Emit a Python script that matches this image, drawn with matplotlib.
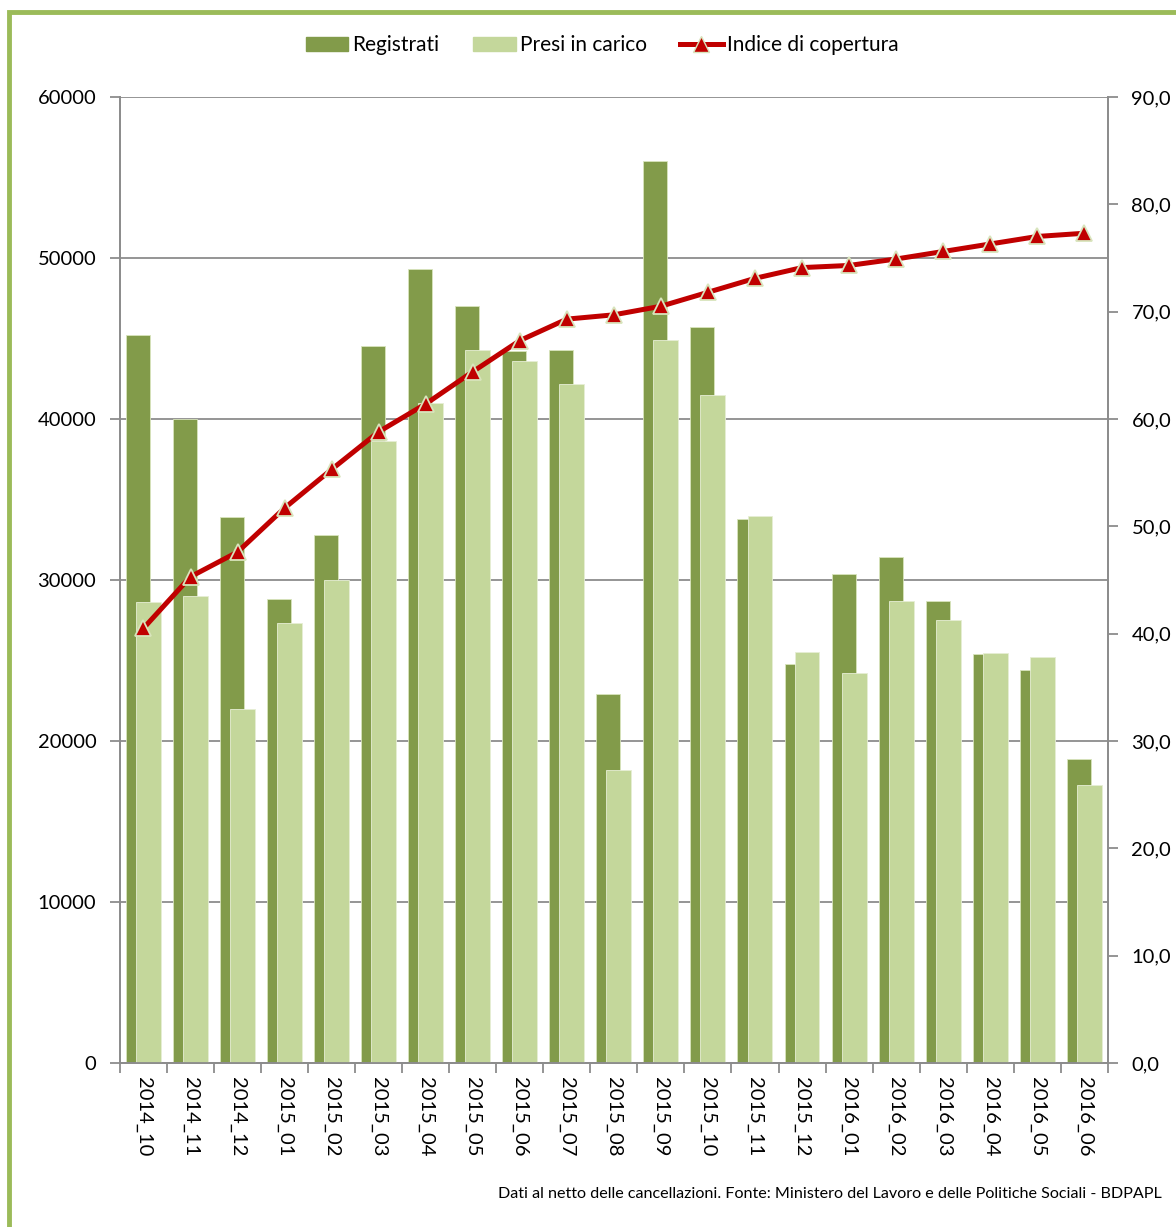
import matplotlib
matplotlib.use('Agg')
import matplotlib.pyplot as plt
import numpy as np
from matplotlib.patches import Rectangle
from matplotlib.lines import Line2D
from matplotlib.ticker import FuncFormatter

plt.rcParams['font.family'] = ['Lato', 'DejaVu Sans']

months = ['2014_10', '2014_11', '2014_12', '2015_01', '2015_02', '2015_03', '2015_04',
          '2015_05', '2015_06', '2015_07', '2015_08', '2015_09', '2015_10', '2015_11',
          '2015_12', '2016_01', '2016_02', '2016_03', '2016_04', '2016_05', '2016_06']
registrati = [45200, 40000, 33900, 28800, 32800, 44500, 49300, 47000, 44200, 44300, 22900,
              56000, 45700, 33800, 24800, 30400, 31400, 28700, 25400, 24400, 18900]
presi = [28600, 29000, 22000, 27300, 30000, 38600, 41000, 44300, 43600, 42200, 18200,
         44900, 41500, 34000, 25500, 24200, 28700, 27500, 25450, 25200, 17250]
indice = [40.5, 45.3, 47.6, 51.7, 55.3, 58.8, 61.4, 64.4, 67.3, 69.3, 69.7,
          70.5, 71.8, 73.1, 74.1, 74.3, 74.9, 75.6, 76.3, 77.0, 77.3]

dark = '#829B4A'
light = '#C4D79B'
red = '#C00000'
grey = '#8C8C8C'

fig = plt.figure(figsize=(11.76, 12.27), dpi=100)
ax = fig.add_axes([0.102, 0.1337, 0.840, 0.7873])

x = np.arange(len(months))
ax.bar(x - 0.117, registrati, 0.51, color=dark, edgecolor='#D8E4BC', linewidth=0.6, zorder=2)
ax.bar(x + 0.106, presi, 0.53, color=light, edgecolor='#E6EED5', linewidth=0.6, zorder=3)

ax.set_xlim(-0.5, len(months) - 0.5)
ax.set_ylim(0, 60000)
ax.set_yticks(np.arange(0, 60001, 10000))
ax.set_axisbelow(True)
ax.yaxis.grid(True, color=grey, linewidth=1.3)
ax.set_xticks(x)
ax.set_xticklabels(months, rotation=270, fontsize=14.5)
ax.set_xticks(np.arange(-0.5, len(months)), minor=True)
ax.tick_params(axis='x', which='major', length=0, pad=10)
ax.tick_params(axis='x', which='minor', length=7, color=grey, width=1.3)
ax.tick_params(axis='y', length=7, color=grey, width=1.3, labelsize=14.5, pad=10)
for s in ['left', 'bottom', 'right']:
    ax.spines[s].set_color(grey)
    ax.spines[s].set_linewidth(1.3)
ax.spines['top'].set_visible(False)

ax2 = ax.twinx()
ax2.plot(x, indice, color=red, linewidth=3.6, marker='^', markersize=11,
         markerfacecolor=red, markeredgecolor='#D8E4BC', markeredgewidth=1.3, zorder=5)
ax2.set_ylim(0, 90)
ax2.set_yticks(np.arange(0, 91, 10))
ax2.yaxis.set_major_formatter(FuncFormatter(lambda v, p: f'{v:.1f}'.replace('.', ',')))
ax2.tick_params(axis='y', length=7, color=grey, width=1.3, labelsize=14.5, pad=10)
for s in ['left', 'bottom', 'right']:
    ax2.spines[s].set_color(grey)
    ax2.spines[s].set_linewidth(1.3)
ax2.spines['top'].set_visible(False)

handles = [Rectangle((0, 0), 1, 1, color=dark),
           Rectangle((0, 0), 1, 1, color=light),
           Line2D([], [], color=red, linewidth=3.6, marker='^', markersize=11,
                  markerfacecolor=red, markeredgecolor='#D8E4BC')]
fig.legend(handles, ['Registrati', 'Presi in carico', 'Indice di copertura'],
           loc='center', bbox_to_anchor=(0.512, 0.963), ncol=3, frameon=False,
           fontsize=15, handlelength=2.05, handletextpad=0.2, columnspacing=1.6)

fig.text(0.988, 0.027, 'Dati al netto delle cancellazioni. Fonte: Ministero del Lavoro e delle Politiche Sociali - BDPAPL',
         ha='right', va='center', fontsize=11.6)

fig.patches.append(Rectangle((0.008, -0.05), 1.1, 1.04, transform=fig.transFigure,
                             fill=False, edgecolor='#9BBB59', linewidth=3.5, clip_on=False))

fig.savefig('out.png', dpi=100)
